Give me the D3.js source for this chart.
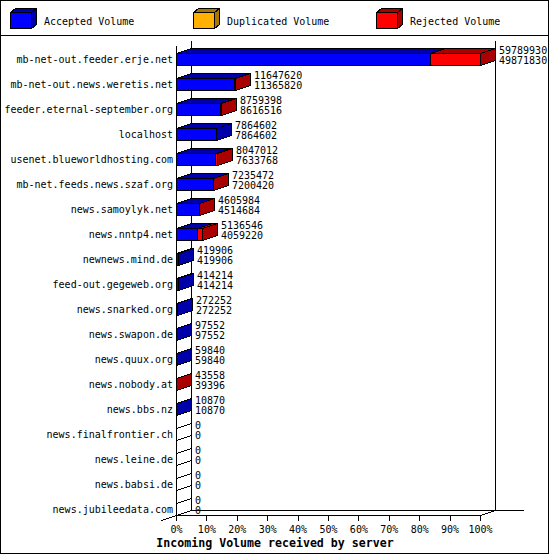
<!DOCTYPE html>
<html><head><meta charset="utf-8">
<script src="https://cdn.jsdelivr.net/npm/d3@7"></script>
<style>
html,body{margin:0;padding:0;background:#fff;}
svg{display:block;}
text{font-family:"DejaVu Sans Mono","Liberation Mono",monospace;font-size:10px;fill:#000;}
</style></head>
<body>
<script>
// ---- data ----
const categories = [
  "mb-net-out.feeder.erje.net","mb-net-out.news.weretis.net","feeder.eternal-september.org",
  "localhost","usenet.blueworldhosting.com","mb-net.feeds.news.szaf.org","news.samoylyk.net",
  "news.nntp4.net","newnews.mind.de","feed-out.gegeweb.org","news.snarked.org","news.swapon.de",
  "news.quux.org","news.nobody.at","news.bbs.nz","news.finalfrontier.ch","news.leine.de",
  "news.babsi.de","news.jubileedata.com"
];
const accepted   = [49871830,11365820,8616516,7864602,7633768,7200420,4514684,4059220,419906,414214,272252,97552,59840,39396,10870,0,0,0,0];
const duplicated = [0,0,0,0,0,0,0,0,0,0,0,0,0,0,0,0,0,0,0];
const rejected   = [9918100,281800,142882,0,413244,35052,91300,1077326,0,0,0,0,0,4162,0,0,0,0,0];
const seriesNames = ["Accepted Volume","Duplicated Volume","Rejected Volume"];
const seriesColors = ["#0000ff","#ffb000","#ff0000"];
const seriesDark   = ["#0000aa","#aa7600","#aa0000"];
const pctTicks = [0,10,20,30,40,50,60,70,80,90,100];
const xTitle = "Incoming Volume received by server";

// ---- layout ----
const W = 550, H = 555;
const DX = 15, DY = 5;
const svg = d3.select("body").append("svg").attr("width", W).attr("height", H);
svg.append("rect").attr("width", W).attr("height", H).attr("fill", "#fff");

const totals = categories.map((_, i) => accepted[i] + duplicated[i] + rejected[i]);
const maxTotal = d3.max(totals);

const pct = d3.scaleLinear().domain([0, 100]).range([176, 480]);
const xv = v => pct(v / maxTotal * 100);
const y = d3.scaleBand().domain(categories).range([46.5, 521.5]);
const cy = c => Math.round(y(c) + y.bandwidth() / 2);

const P = v => Math.round(v) + 0.5;
const line = (x1, y1, x2, y2) => svg.append("line")
  .attr("x1", P(x1)).attr("y1", P(y1)).attr("x2", P(x2)).attr("y2", P(y2))
  .attr("stroke", "#000").attr("stroke-width", 1).attr("shape-rendering", "crispEdges");
const poly = (pts, fill) => svg.append("polygon")
  .attr("points", pts.map(p => P(p[0]) + "," + P(p[1])).join(" "))
  .attr("fill", fill).attr("stroke", "#000").attr("stroke-width", 1)
  .attr("shape-rendering", "crispEdges");

// frame + legend separator
svg.append("rect").attr("x", 0.5).attr("y", 0.5).attr("width", 548).attr("height", 553)
  .attr("fill", "none").attr("stroke", "#000").attr("shape-rendering", "crispEdges");
line(0, 35, 548, 35);

// legend
seriesNames.forEach((name, k) => {
  const x0 = 10 + k * 183, x1 = x0 + 21, t = 12, b = 28, d = 5, e = 4;
  poly([[x0, t], [x1, t], [x1, b], [x0, b]], seriesColors[k]);
  poly([[x0, t], [x0 + d, t - e], [x1 + d, t - e], [x1, t]], seriesDark[k]);
  poly([[x1, t], [x1 + d, t - e], [x1 + d, b - e], [x1, b]], seriesDark[k]);
  svg.append("text").attr("x", x0 + 34).attr("y", 24.5).text(name);
});

// axes / walls
const x0 = pct(0), x100 = pct(100);
const yTop = 45, yBot = 515;
line(x0, yTop, x0, yBot);                          // front left axis
line(x0 + DX, yTop - DY, x0 + DX, yBot - DY);      // back left axis
line(x100 + DX, yTop - DY, x100 + DX, yBot - DY);  // right back wall
line(x0 + DX, yBot - DY, 523, yBot - DY);          // back floor line
line(x0, yBot, x100, yBot);                        // front x axis
line(x100, yBot, x100 + DX, yBot - DY);            // right floor diagonal
line(x0 - DX, yBot + DY, x0 + DX, yBot - DY);      // left floor diagonal

// x ticks and labels
pctTicks.forEach(p => {
  line(pct(p), yBot, pct(p), yBot + 5);
  svg.append("text").attr("x", pct(p) + 0.5).attr("y", 533)
    .attr("text-anchor", "middle").text(p + "%");
});
svg.append("text").attr("x", 275).attr("y", 546.5).attr("text-anchor", "middle")
  .style("font-weight", "bold").style("font-size", "11.6px").text(xTitle);

// bars
function bar3d(xa, xb, c, k, empty) {
  const a = Math.round(xa), b = Math.round(xb);
  const t = c - 6, bo = c + 6;
  const f = empty ? "none" : seriesColors[k], g = empty ? "none" : seriesDark[k];
  poly([[a, t], [b, t], [b, bo], [a, bo]], f);
  poly([[a, t], [a + DX, t - DY], [b + DX, t - DY], [b, t]], g);
  poly([[b, t], [b + DX, t - DY], [b + DX, bo - DY], [b, bo]], g);
}
const series = [accepted, duplicated, rejected];
categories.forEach((cat, i) => {
  const c = cy(cat);
  svg.append("text").attr("x", 173).attr("y", c + 4).attr("text-anchor", "end").text(cat);
  let cum = 0;
  series.forEach((s, k) => {
    const v = s[i];
    if (v > 0) bar3d(xv(cum), xv(cum + v), c, k, false);
    else if (k === 0) bar3d(xv(cum), xv(cum), c, k, true);
    cum += v;
  });
  const bx = Math.round(xv(totals[i])) + DX + 4;
  svg.append("text").attr("x", bx).attr("y", c - 5.5).text(totals[i]);
  svg.append("text").attr("x", bx).attr("y", c + 5).text(accepted[i]);
});
</script>
</body></html>
